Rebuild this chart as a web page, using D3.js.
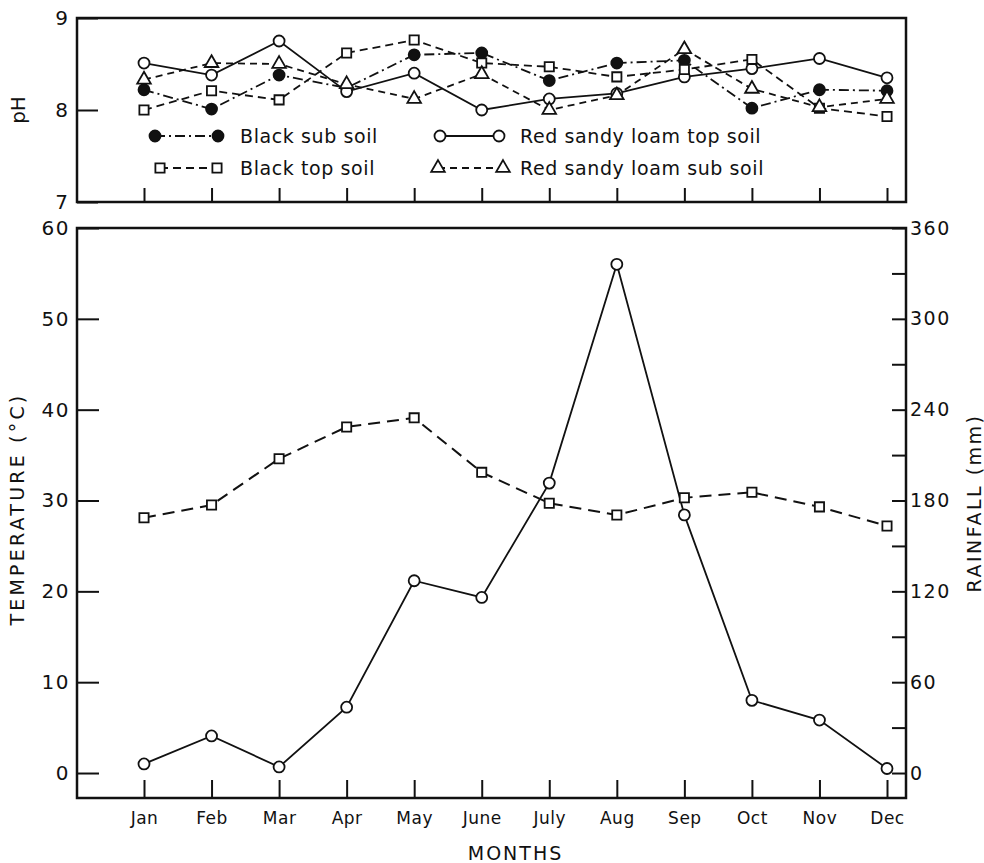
<!DOCTYPE html>
<html>
<head>
<meta charset="utf-8">
<script src="https://cdn.jsdelivr.net/npm/d3@7"></script>
<style>
  body { margin: 0; background: #fff; }
  text { font-family: "DejaVu Sans", sans-serif; fill: #111; }
</style>
</head>
<body>
<div id="chart"></div>
<script>
"use strict";

// months along the x axis
const months = ["Jan", "Feb", "Mar", "Apr", "May", "June", "July", "Aug", "Sep", "Oct", "Nov", "Dec"];

// soil pH, top panel
const blackSubSoil = [8.22, 8.01, 8.38, 8.24, 8.6, 8.62, 8.32, 8.51, 8.54, 8.02, 8.22, 8.21];
const redTopSoil = [8.51, 8.38, 8.75, 8.2, 8.4, 8.0, 8.12, 8.18, 8.36, 8.45, 8.56, 8.35];
const blackTopSoil = [8.0, 8.21, 8.11, 8.62, 8.76, 8.51, 8.47, 8.36, 8.44, 8.55, 8.02, 7.93];
const redSubSoil = [8.33, 8.51, 8.5, 8.28, 8.12, 8.39, 8.0, 8.16, 8.66, 8.23, 8.03, 8.12];

// weather, lower panel
const temperature = [28.1, 29.5, 34.6, 38.1, 39.1, 33.1, 29.7, 28.4, 30.3, 30.9, 29.3, 27.2];
const rainfall = [6, 24.5, 4, 43.5, 127, 116, 191.5, 336, 170.5, 48, 35, 3];

// tick values
const phTicks = [7, 8, 9];
const tempTicks = [0, 10, 20, 30, 40, 50, 60];
const rainTicks = [0, 30, 60, 90, 120, 150, 180, 210, 240, 270, 300, 330, 360];

const msm = {
    width: 984,
    height: 863,
    left: 77,
    right: 906,
    phTop: 18,
    phBottom: 202,
    top: 228,
    bottom: 798
}

let svg = d3.select("#chart")
    .append("svg")
    .attr("width", msm.width)
    .attr("height", msm.height);

let x = d3.scalePoint().domain(months).range([144, 887]);
let yPh = d3.scaleLinear().domain([7, 9]).range([msm.phBottom, msm.phTop]);
let yTemp = d3.scaleLinear().domain([-2.75, 60]).range([msm.bottom, msm.top]);
let yRain = d3.scaleLinear().domain([-16.5, 360]).range([msm.bottom, msm.top]);

const ink = "#111";

// ---- top panel (pH) ----
drawFrame(msm.phTop, msm.phBottom);

svg.append("g")
    .attr("transform", "translate(" + msm.left + ",0)")
    .call(d3.axisLeft(yPh).tickValues(phTicks).tickSize(-21).tickPadding(9).tickFormat(d3.format("d")))
    .call(cleanAxis)
    .selectAll("text").style("font-size", "20px");

svg.append("g")
    .attr("transform", "translate(0," + msm.phBottom + ")")
    .call(d3.axisBottom(x).tickSize(-14).tickFormat(""))
    .call(cleanAxis);

svg.append("text")
    .attr("transform", "translate(25," + yPh(8) + ") rotate(-90)")
    .attr("text-anchor", "middle")
    .style("font-size", "20px")
    .text("pH");

let phSeries = [
    { name: "Black sub soil", values: blackSubSoil, dash: "10,4,2,4", mark: "dot" },
    { name: "Red sandy loam top soil", values: redTopSoil, dash: null, mark: "circle" },
    { name: "Black top soil", values: blackTopSoil, dash: "8,5", mark: "square" },
    { name: "Red sandy loam sub soil", values: redSubSoil, dash: "7,5", mark: "triangle" }
];

phSeries.forEach(s => {
    drawLine(s.values, yPh, s.dash, 1.8);
});
phSeries.forEach(s => {
    s.values.forEach((v, i) => drawMark(s.mark, x(months[i]), yPh(v)));
});

// legend, two rows of two
let legendPos = [
    { x1: 155, x2: 218, y: 136, tx: 240 },
    { x1: 440, x2: 499, y: 136, tx: 520 },
    { x1: 160, x2: 217, y: 168, tx: 240 },
    { x1: 438, x2: 503, y: 168, tx: 520 }
];
phSeries.forEach((s, i) => {
    let p = legendPos[i];
    svg.append("line")
        .attr("x1", p.x1).attr("x2", p.x2)
        .attr("y1", p.y).attr("y2", p.y)
        .attr("stroke", ink)
        .attr("stroke-width", 1.8)
        .attr("stroke-dasharray", s.dash);
    drawMark(s.mark, p.x1, p.y);
    drawMark(s.mark, p.x2, p.y);
    svg.append("text")
        .attr("x", p.tx)
        .attr("y", p.y)
        .attr("dy", "0.36em")
        .style("font-size", "19px")
        .style("letter-spacing", "0.6px")
        .text(s.name);
});

// ---- lower panel (temperature and rainfall) ----
drawFrame(msm.top, msm.bottom);

svg.append("g")
    .attr("transform", "translate(" + msm.left + ",0)")
    .call(d3.axisLeft(yTemp).tickValues(tempTicks).tickSize(-22).tickPadding(7))
    .call(cleanAxis)
    .selectAll("text").style("font-size", "20px").style("letter-spacing", "1.5px");

svg.append("g")
    .attr("transform", "translate(" + msm.right + ",0)")
    .call(d3.axisRight(yRain).tickValues(rainTicks).tickSize(-14).tickPadding(4)
        .tickFormat(d => d % 60 == 0 ? d : ""))
    .call(cleanAxis)
    .selectAll("text").style("font-size", "19px").style("letter-spacing", "1.5px");

svg.append("g")
    .attr("transform", "translate(0," + msm.bottom + ")")
    .call(d3.axisBottom(x).tickSize(-18).tickPadding(14))
    .call(cleanAxis)
    .selectAll("text").style("font-size", "17px").style("letter-spacing", "0.5px");

drawLine(temperature, yTemp, "12,7", 2);
drawLine(rainfall, yRain, null, 1.8);
temperature.forEach((v, i) => drawMark("square", x(months[i]), yTemp(v)));
rainfall.forEach((v, i) => drawMark("circle", x(months[i]), yRain(v)));

// axis titles
svg.append("text")
    .attr("x", (x("June") + x("July")) / 2)
    .attr("y", 860)
    .attr("text-anchor", "middle")
    .style("font-size", "19px")
    .style("letter-spacing", "2px")
    .text("MONTHS");

svg.append("text")
    .attr("transform", "translate(24,509) rotate(-90)")
    .attr("text-anchor", "middle")
    .style("font-size", "19px")
    .style("letter-spacing", "3.2px")
    .text("TEMPERATURE (°C)");

svg.append("text")
    .attr("transform", "translate(981,503) rotate(-90)")
    .attr("text-anchor", "middle")
    .style("font-size", "19px")
    .style("letter-spacing", "2.5px")
    .text("RAINFALL (mm)");

// box around a panel
function drawFrame(top, bottom) {
    svg.append("rect")
        .attr("x", msm.left)
        .attr("y", top)
        .attr("width", msm.right - msm.left)
        .attr("height", bottom - top)
        .attr("fill", "none")
        .attr("stroke", ink)
        .attr("stroke-width", 2.5);
}

// drop the domain path, thicken ticks
function cleanAxis(g) {
    g.select(".domain").remove();
    g.selectAll(".tick line").attr("stroke", ink).attr("stroke-width", 2);
    g.selectAll(".tick text").attr("fill", ink).style("font-family", "DejaVu Sans, sans-serif");
}

function drawLine(values, yScale, dash, width) {
    let line = d3.line()
        .x((d, i) => x(months[i]))
        .y(d => yScale(d));
    svg.append("path")
        .datum(values)
        .attr("d", line)
        .attr("fill", "none")
        .attr("stroke", ink)
        .attr("stroke-width", width)
        .attr("stroke-dasharray", dash);
}

function drawMark(kind, cx, cy) {
    if (kind == "dot" || kind == "circle") {
        svg.append("circle")
            .attr("cx", cx)
            .attr("cy", cy)
            .attr("r", 5.5)
            .attr("fill", kind == "dot" ? ink : "#fff")
            .attr("stroke", ink)
            .attr("stroke-width", 1.8);
    } else {
        let sym = kind == "square" ? d3.symbolSquare : d3.symbolTriangle;
        svg.append("path")
            .attr("transform", "translate(" + cx + "," + cy + ")")
            .attr("d", d3.symbol().type(sym).size(kind == "square" ? 85 : 80)())
            .attr("fill", "#fff")
            .attr("stroke", ink)
            .attr("stroke-width", 1.8);
    }
}
</script>
</body>
</html>
